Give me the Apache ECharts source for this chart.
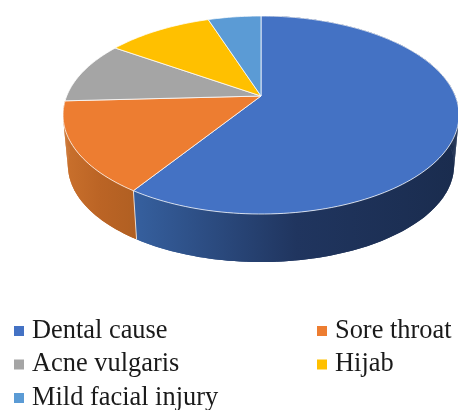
<!DOCTYPE html>
<html>
<head>
<meta charset="utf-8">
<style>
html, body { margin: 0; padding: 0; background: #fff; }
#chart { width: 458px; height: 410px; }
</style>
<script src="https://cdn.jsdelivr.net/npm/echarts@6/dist/echarts.min.js"></script>
</head>
<body>
<div id="chart"></div>
<script>
var categories = ['Dental cause', 'Sore throat', 'Acne vulgaris', 'Hijab', 'Mild facial injury'];
var values = [59.3, 14.9, 10.2, 10.4, 5.2];
var colors = ['#4472C4', '#ED7D31', '#A5A5A5', '#FFC000', '#5B9BD5'];
// only the two front slices show a side wall
var sideStops = [
    ['#36609f', '#20355f', '#1a2c4e'],
    ['#ca712d', '#bb6425', '#b05f22']
];

var total = 0;
var starts = [];
for (var k = 0; k < values.length; k++) {
    starts.push(total);
    total += values[k];
}

// the disc is seen in perspective, so the apex sits above the centre of the ellipse
var apexX = 261, apexY = 96;
var tilt = -0.192, scaleY = 95.35, scaleX = 194.3;
var depthScale = 0.975, depthY = 51;

function rimPoint(frac, lower) {
    var a = frac * Math.PI * 2;
    var u = Math.sin(a), v = -Math.cos(a);
    var w = 1 + tilt * v;
    var x = scaleX * u / w, y = scaleY * v / w;
    if (lower) {
        return [apexX + x * depthScale, apexY + y * depthScale + depthY];
    }
    return [apexX + x, apexY + y];
}

function rimPoints(from, to, lower) {
    var pts = [];
    var steps = Math.max(4, Math.ceil((to - from) * 240));
    for (var s = 0; s <= steps; s++) {
        pts.push(rimPoint(from + (to - from) * s / steps, lower));
    }
    return pts;
}

function makeRenderItem(idx) {
    return function (params, api) {
        var from = starts[idx] / total;
        var to = (starts[idx] + api.value(0)) / total;
        var top = rimPoints(from, to, false);
        var lowForward = rimPoints(from, to, true);
        var low = lowForward.slice().reverse();
        var children = [];
        if (sideStops[idx]) {
            var xs = top.concat(low).map(function (p) { return p[0]; });
            var sideFill = new echarts.graphic.LinearGradient(Math.min.apply(null, xs), 0, Math.max.apply(null, xs), 0, [
                { offset: 0, color: sideStops[idx][0] },
                { offset: 0.5, color: sideStops[idx][1] },
                { offset: 1, color: sideStops[idx][2] }
            ], true);
            children.push({
                type: 'polygon',
                z2: 1,
                shape: { points: top.concat(low) },
                style: { fill: sideFill }
            });
            // small strips so the wall also fills out to the silhouette at the left edge
            for (var s = 0; s < top.length - 1; s++) {
                children.push({
                    type: 'polygon',
                    z2: 1,
                    shape: { points: [top[s], top[s + 1], lowForward[s + 1], lowForward[s]] },
                    style: { fill: sideFill }
                });
            }
        }
        children.push({
            type: 'polygon',
            z2: 5,
            shape: { points: [[apexX, apexY]].concat(top) },
            style: { fill: colors[idx], stroke: 'rgba(255,255,255,0.75)', lineWidth: 1 }
        });
        // seam between the two visible side walls
        if (idx === 0) {
            children.push({
                type: 'line',
                z2: 3,
                shape: {
                    x1: top[top.length - 1][0], y1: top[top.length - 1][1],
                    x2: low[0][0], y2: low[0][1]
                },
                style: { stroke: 'rgba(255,255,255,0.75)', lineWidth: 1 }
            });
        }
        return { type: 'group', children: children };
    };
}

var seriesList = [];
for (var i = 0; i < categories.length; i++) {
    seriesList.push({
        type: 'custom',
        name: categories[i],
        coordinateSystem: 'none',
        silent: true,
        itemStyle: { color: colors[i] },
        renderItem: makeRenderItem(i),
        data: [[values[i]]]
    });
}

var legendText = {
    fontFamily: 'Liberation Serif',
    fontSize: 26.4,
    lineHeight: 28,
    color: '#1a1a1a',
    padding: [0, 0, 0, 3]
};

var chart = echarts.init(document.getElementById('chart'));
chart.setOption({
    animation: false,
    backgroundColor: '#fff',
    tooltip: { show: false },
    legend: [{
        orient: 'vertical',
        left: 14,
        top: 317,
        height: 120,
        padding: 0,
        itemGap: 5.5,
        itemWidth: 10,
        itemHeight: 10,
        icon: 'rect',
        selectedMode: false,
        textStyle: legendText,
        data: [categories[0], categories[2], categories[4]]
    }, {
        orient: 'vertical',
        left: 317,
        top: 317,
        height: 120,
        padding: 0,
        itemGap: 5.5,
        itemWidth: 10,
        itemHeight: 10,
        icon: 'rect',
        selectedMode: false,
        textStyle: legendText,
        data: [categories[1], categories[3]]
    }],
    series: seriesList
});
</script>
</body>
</html>
